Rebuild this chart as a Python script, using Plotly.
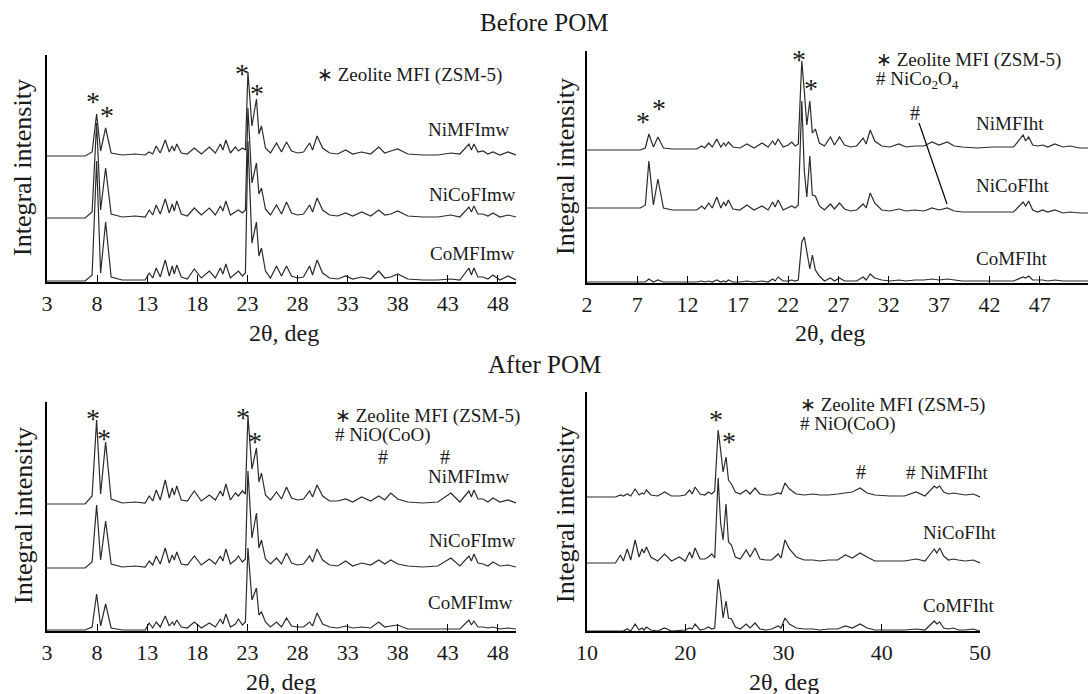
import plotly.graph_objects as go

# ---------------- data ----------------
# 2-theta grid for the microwave (mw) samples, deg
X_MW = [3.0, 6.8, 7.5, 7.95, 8.35, 8.85, 9.4, 10.5, 11.8, 12.8,
        13.2, 13.55, 13.9, 14.3, 14.8, 15.2, 15.5, 15.7, 15.95, 16.4,
        17.0, 17.7, 18.4, 19.2, 19.8, 20.3, 20.55, 20.85, 21.3, 21.8,
        22.1, 22.5, 22.8, 23.05, 23.45, 23.9, 24.15, 24.4, 24.8, 25.3,
        25.9, 26.4, 26.9, 27.4, 28.0, 28.6, 29.2, 29.5, 29.95, 30.5,
        31.2, 32.0, 32.8, 33.5, 34.4, 35.3, 36.1, 36.7, 37.3, 38.0,
        39.0, 40.5, 42.0, 43.3, 44.2, 45.1, 45.35, 45.6, 46.0, 46.5,
        47.0, 47.5, 48.2, 49.0, 49.8]

# 2-theta grid for the hydrothermal (ht) samples, deg
X_HT = [2.0, 7.3, 7.8, 8.15, 8.6, 9.05, 9.6, 10.5, 11.8, 12.9,
        13.4, 13.7, 14.1, 14.45, 14.9, 15.3, 15.6, 15.8, 16.05, 16.5,
        17.2, 17.9, 18.6, 19.4, 20.0, 20.45, 20.7, 21.0, 21.5, 22.0,
        22.35, 22.7, 23.0, 23.35, 23.6, 23.85, 24.15, 24.4, 24.7, 25.1,
        25.6, 26.2, 26.6, 27.1, 27.6, 28.2, 28.8, 29.45, 29.75, 30.15,
        30.6, 31.3, 32.1, 33.0, 33.7, 34.6, 35.5, 36.3, 37.0, 37.8,
        38.5, 39.3, 40.8, 42.3, 43.5, 44.4, 45.35, 45.6, 45.9, 46.3,
        46.8, 47.3, 47.8, 48.5, 49.3, 50.0, 51.0, 51.8]

# Before POM, mw samples (intensity above own baseline)
BEFORE_NIMFIMW = [0, 0, 4, 42, 5, 28, 3, 1, 2, 1,
                  4, 2, 10, 3, 16, 4, 10, 5, 12, 3,
                  2, 8, 2, 9, 3, 12, 6, 16, 3, 9,
                  5, 8, 6, 84, 30, 57, 22, 30, 8, 3,
                  13, 4, 14, 5, 3, 4, 13, 6, 20, 8,
                  3, 2, 6, 2, 4, 2, 9, 3, 5, 7,
                  2, 1, 1, 3, 2, 12, 6, 12, 4, 5,
                  2, 4, 1, 4, 1]
BEFORE_NICOFIMW = [0, 0, 6, 95, 8, 50, 4, 1, 2, 1,
                   8, 3, 13, 4, 19, 5, 14, 7, 17, 4,
                   2, 10, 3, 10, 3, 12, 7, 17, 3, 6,
                   8, 5, 8, 110, 35, 55, 24, 30, 9, 3,
                   13, 4, 16, 5, 3, 4, 13, 6, 20, 8,
                   3, 2, 5, 2, 6, 2, 8, 3, 4, 7,
                   2, 1, 1, 3, 1, 11, 6, 12, 4, 4,
                   2, 5, 1, 3, 1]
BEFORE_COMFIMW = [0, 0, 6, 120, 8, 59, 4, 1, 1, 1,
                  8, 3, 13, 4, 21, 5, 15, 7, 16, 4,
                  2, 12, 3, 10, 3, 13, 7, 17, 3, 7,
                  10, 5, 8, 140, 38, 59, 25, 33, 10, 3,
                  15, 5, 15, 5, 3, 4, 15, 6, 21, 8,
                  3, 2, 5, 2, 4, 2, 10, 3, 4, 7,
                  2, 1, 1, 2, 1, 13, 6, 13, 4, 4,
                  2, 6, 1, 5, 1]

# Before POM, ht samples
BEFORE_NIMFIHT = [-1, -1, 1, 15, 2, 12, 1, 0, 0, 0,
                  3, 1, 6, 2, 10, 2, 6, 3, 7, 2,
                  1, 5, 1, 6, 2, 8, 4, 10, 2, 4,
                  7, 3, 5, 88, 58, 24, 48, 16, 20, 6,
                  3, 12, 4, 12, 4, 2, 3, 11, 5, 19,
                  8, 3, 2, 5, 2, 3, 3, 7, 4, 7,
                  3, 2, 1, 2, 2, 2, 14, 8, 12, 4,
                  3, 4, 2, 5, 2, 3, 1, 1]
BEFORE_NICOFIHT = [3, 3, 6, 50, 6, 32, 3, 1, 1, 1,
                   5, 2, 8, 3, 14, 3, 9, 5, 11, 2,
                   1, 6, 1, 5, 1, 9, 4, 11, 1, 3,
                   5, 3, 6, 110, 40, 14, 55, 16, 15, 5,
                   1, 7, 2, 8, 2, 0, 1, 7, 3, 18,
                   8, 1, 0, 2, 0, 1, 0, 3, 1, 3,
                   0, -1, -1, -1, -1, -1, 9, 5, 10, 1,
                   -1, 1, -1, 1, -2, -1, -2, -2]
BEFORE_COMFIHT = [0, 0, 0, 3, 0, 2, 0, 0, 0, 0,
                  1, 0, 1, 0, 2, 0, 1, 0, 2, 0,
                  0, 1, 0, 1, 0, 3, 1, 5, 1, 1,
                  2, 1, 2, 40, 45, 30, 13, 27, 12, 6,
                  1, 4, 1, 4, 1, 1, 1, 5, 2, 8,
                  4, 2, 1, 2, 1, 2, 2, 3, 2, 3,
                  2, 1, 1, 1, 1, 1, 5, 4, 6, 2,
                  2, 2, 1, 2, 1, 1, 1, 1]

# After POM, mw samples
AFTER_NIMFIMW = [0, 0, 8, 84, 10, 62, 5, 1, 2, 1,
                 8, 3, 14, 4, 24, 6, 16, 9, 18, 4,
                 3, 13, 3, 9, 4, 13, 8, 20, 4, 11,
                 8, 13, 10, 88, 35, 56, 22, 31, 9, 4,
                 12, 5, 17, 6, 4, 5, 13, 7, 19, 8,
                 3, 3, 5, 2, 7, 3, 8, 4, 11, 5,
                 2, 1, 2, 11, 2, 13, 7, 14, 5, 5,
                 2, 6, 2, 4, 1]
AFTER_NICOFIMW = [0, 0, 6, 63, 8, 47, 4, 1, 2, 1,
                  7, 3, 12, 4, 20, 5, 13, 8, 16, 4,
                  3, 12, 3, 9, 4, 12, 7, 19, 4, 8,
                  12, 6, 9, 97, 30, 55, 20, 28, 9, 4,
                  10, 4, 15, 5, 3, 4, 12, 6, 19, 8,
                  3, 2, 7, 2, 5, 3, 8, 4, 8, 4,
                  2, 1, 2, 10, 2, 12, 7, 14, 5, 4,
                  2, 6, 2, 3, 1]
AFTER_COMFIMW = [0, 0, 3, 36, 4, 26, 2, 0, 0, 0,
                 7, 2, 8, 3, 14, 4, 8, 5, 10, 3,
                 2, 8, 2, 7, 3, 11, 6, 16, 3, 6,
                 11, 5, 8, 82, 30, 42, 15, 18, 8, 3,
                 8, 3, 12, 4, 3, 3, 8, 4, 17, 6,
                 3, 2, 4, 2, 3, 2, 8, 3, 4, 5,
                 1, 1, 1, 1, 1, 10, 5, 9, 3, 3,
                 2, 3, 1, 2, 1]

# After POM, ht samples
AFTER_NIMFIHT = [0, 0, 0, 0, 0, 0, 0, 0, 0, 0,
                 2, 1, 3, 1, 8, 2, 4, 3, 7, 2,
                 1, 5, 1, 1, 2, 7, 3, 10, 3, 2,
                 5, 3, 6, 67, 47, 25, 40, 17, 13, 5,
                 3, 7, 3, 9, 3, 2, 2, 4, 3, 14,
                 8, 3, 2, 3, 2, 2, 3, 4, 5, 9,
                 4, 2, 1, 1, 5, 1, 11, 9, 11, 5,
                 3, 4, 3, 2, 3, 0, 0, 0]
AFTER_NICOFIHT = [0, 0, 0, 0, 0, 0, 0, 0, 0, 0,
                  8, 2, 14, 3, 23, 6, 14, 10, 16, 6,
                  2, 9, 2, 6, 2, 11, 5, 15, 4, 4,
                  6, 9, 5, 85, 40, 23, 59, 21, 18, 6,
                  4, 13, 6, 15, 4, 3, 3, 9, 5, 23,
                  14, 6, 3, 3, 2, 3, 3, 8, 5, 10,
                  6, 2, 2, 2, 4, 2, 14, 10, 15, 7,
                  3, 4, 3, 2, 3, 0, 0, 0]
AFTER_COMFIHT = [0, 0, 0, 0, 0, 0, 0, 0, 0, 0,
                 0, 0, 2, 0, 7, 1, 3, 1, 4, 1,
                 0, 3, 0, 1, 1, 3, 2, 7, 1, 2,
                 4, 2, 3, 52, 37, 13, 30, 13, 12, 4,
                 2, 7, 3, 8, 2, 1, 2, 5, 3, 13,
                 7, 3, 2, 2, 1, 2, 2, 5, 3, 7,
                 3, 1, 1, 1, 2, 1, 10, 7, 9, 3,
                 2, 3, 1, 1, 2, 0, 0, 0]

LABELS_MW = ["NiMFImw", "NiCoFImw", "CoMFImw"]
LABELS_HT = ["NiMFIht", "NiCoFIht", "CoMFIht"]
TICKS_MW = [3, 8, 13, 18, 23, 28, 33, 38, 43, 48]
TICKS_HT_BEFORE = [2, 7, 12, 17, 22, 27, 32, 37, 42, 47]
TICKS_HT_AFTER = [10, 20, 30, 40, 50]

# ---------------- layout helpers ----------------
W, H = 1088, 694
SERIF = "Liberation Serif, Times New Roman, serif"
INK = "#1a1a1a"
STAR = "*\ufe0e"
HASH = "#\ufe0e"


def fx(p):
    return p / W


def fy(p):
    return 1 - p / H


panels = [
    dict(x=X_MW, ys=[BEFORE_NIMFIMW, BEFORE_NICOFIMW, BEFORE_COMFIMW], off=[126, 64, 1],
         xr=[3, 49.8], yr=[0, 227], dx=(47, 516), dy=(55, 282), ticks=TICKS_MW),
    dict(x=X_HT, ys=[BEFORE_NIMFIHT, BEFORE_NICOFIHT, BEFORE_COMFIHT], off=[134, 72, 1],
         xr=[2, 51.8], yr=[0, 232], dx=(587, 1088), dy=(51, 283), ticks=TICKS_HT_BEFORE),
    dict(x=X_MW, ys=[AFTER_NIMFIMW, AFTER_NICOFIMW, AFTER_COMFIMW], off=[127, 63, 1],
         xr=[3, 49.8], yr=[0, 229], dx=(47, 516), dy=(402, 631), ticks=TICKS_MW),
    dict(x=X_HT, ys=[AFTER_NIMFIHT, AFTER_NICOFIHT, AFTER_COMFIHT], off=[134, 68, 0],
         xr=[10, 50], yr=[0, 239], dx=(587, 980), dy=(392, 631), ticks=TICKS_HT_AFTER),
]

fig = go.Figure()
layout = dict(width=W, height=H, margin=dict(l=0, r=0, t=0, b=0, autoexpand=False),
              paper_bgcolor="white", plot_bgcolor="white", showlegend=False)

for i, p in enumerate(panels, start=1):
    xa = "x" if i == 1 else f"x{i}"
    ya = "y" if i == 1 else f"y{i}"
    for ys, off in zip(p["ys"], p["off"]):
        fig.add_trace(go.Scatter(x=p["x"], y=[v + off for v in ys], mode="lines",
                                 line=dict(color="#2b2b2b", width=1.2),
                                 xaxis=xa, yaxis=ya, hoverinfo="skip"))
    layout[f"xaxis{i}"] = dict(domain=[fx(p["dx"][0]), fx(p["dx"][1])], range=p["xr"],
                               anchor=ya, showline=True, linecolor="black", linewidth=1.5,
                               showgrid=False, zeroline=False, ticks="inside", ticklen=7,
                               tickwidth=1, tickcolor="black", tickvals=p["ticks"],
                               ticklabelstandoff=1, automargin=False,
                               tickfont=dict(family=SERIF, size=22, color=INK))
    layout[f"yaxis{i}"] = dict(domain=[fy(p["dy"][1]), fy(p["dy"][0])], range=p["yr"],
                               anchor=xa, showline=True, linecolor="black", linewidth=1.5,
                               showgrid=False, zeroline=False, ticks="",
                               showticklabels=False, automargin=False)

ann = []


def text(x, y, s, size, xanchor="center", angle=0, yanchor="middle"):
    ann.append(dict(x=fx(x), y=fy(y), xref="paper", yref="paper", text=s, showarrow=False,
                    xanchor=xanchor, yanchor=yanchor, textangle=angle,
                    font=dict(family=SERIF, size=size, color=INK)))


# headers
text(544, 22, "Before POM", 25)
text(544, 364, "After POM", 25)
# axis titles
for (x, y) in [(22, 168), (565, 167), (23, 516), (565, 515)]:
    text(x, y, "Integral intensity", 26, angle=-90)
for (x, y) in [(284, 333), (830, 333), (281, 682), (784, 682)]:
    text(x, y, "2θ, deg", 24)

# legends
text(315, 75, "∗ Zeolite MFI (ZSM-5)", 19, xanchor="left")
text(874, 60, "∗ Zeolite MFI (ZSM-5)", 19, xanchor="left")
text(874, 80, HASH + " NiCo<sub>2</sub>O<sub>4</sub>", 19, xanchor="left")
text(333, 416, "∗ Zeolite MFI (ZSM-5)", 19, xanchor="left")
text(333, 435, HASH + " NiO(CoO)", 19, xanchor="left")
text(798, 405, "∗ Zeolite MFI (ZSM-5)", 19, xanchor="left")
text(798, 424, HASH + " NiO(CoO)", 19, xanchor="left")

# sample labels
for lab, (x, y) in zip(LABELS_MW, [(512, 130), (518, 195), (517, 253)]):
    text(x, y, lab, 19, xanchor="right")
for lab, (x, y) in zip(LABELS_HT, [(974, 123), (974, 185), (974, 258)]):
    text(x, y, lab, 19, xanchor="left")
for lab, (x, y) in zip(LABELS_MW, [(512, 476), (518, 540), (515, 602)]):
    text(x, y, lab, 19, xanchor="right")
for lab, (x, y) in zip(LABELS_HT, [(904, 472), (921, 532), (921, 605)]):
    text(x, y, (HASH + " " + lab) if lab == "NiMFIht" else lab, 19, xanchor="left")

# peak markers
for (x, y) in [(93, 94), (107, 108), (242, 67), (257, 87),
               (643, 114), (659, 101), (799, 53), (811, 81),
               (93, 411), (104, 431), (243, 410), (255, 434),
               (716, 413), (729, 435)]:
    text(x, y + 7, STAR, 28)
for (x, y) in [(915, 113), (383, 457), (445, 457), (861, 472)]:
    text(x, y, HASH, 20)

layout["annotations"] = ann
layout["shapes"] = [dict(type="line", xref="paper", yref="paper",
                         x0=fx(919), y0=fy(123), x1=fx(947), y1=fy(204),
                         line=dict(color="black", width=1.2))]
fig.update_layout(**layout)
fig.write_html("out.html", config={"displayModeBar": False, "responsive": False},
               post_script="document.body.style.margin='0';document.body.style.overflow='hidden';")
